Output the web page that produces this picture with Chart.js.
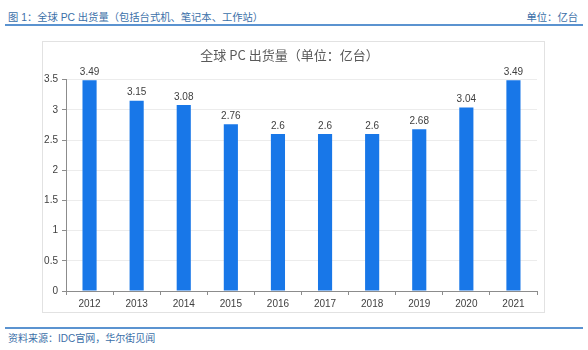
<!DOCTYPE html>
<html>
<head>
<meta charset="utf-8">
<script src="https://cdn.jsdelivr.net/npm/chart.js@4.4.0/dist/chart.umd.min.js"></script>
<style>
  body { margin: 0; width: 588px; height: 350px; background: #fff; position: relative; overflow: hidden;
         font-family: "Liberation Sans", "Noto Sans CJK SC", sans-serif; }
  .head { position: absolute; left: 8px; top: 9px; font-size: 10.3px; color: #3b6fa8; }
  .unit { position: absolute; right: 10px; top: 9px; font-size: 10.3px; color: #3b6fa8; }
  .rule { position: absolute; left: 5px; width: 578px; height: 2px; background: #5b93d0; }
  .src { position: absolute; left: 8px; top: 330px; font-size: 10px; color: #3b6fa8; }
  #box { position: absolute; left: 42px; top: 41px; width: 503px; height: 272px;
         border: 1px solid #e2e2e2; box-sizing: border-box; }
  #pcChart { position: absolute; left: -1px; top: -1px; }
</style>
</head>
<body>
<div class="head">图 1：全球 PC 出货量（包括台式机、笔记本、工作站）</div>
<div class="unit">单位：亿台</div>
<div class="rule" style="top:24px"></div>
<div id="box"><canvas id="pcChart" width="503" height="272"></canvas></div>
<div class="rule" style="top:327px"></div>
<div class="src">资料来源：IDC官网，华尔街见闻</div>

<script>
// --- Datos ---
const years = ['2012', '2013', '2014', '2015', '2016', '2017', '2018', '2019', '2020', '2021'];
const shipments = [3.49, 3.15, 3.08, 2.76, 2.6, 2.6, 2.6, 2.68, 3.04, 3.49];
const yTicks = [0, 0.5, 1, 1.5, 2, 2.5, 3, 3.5];

// etiquetas encima de cada barra
const valueLabels = {
    id: 'valueLabels',
    afterDatasetsDraw(chart) {
        const ctx = chart.ctx;
        ctx.save();
        ctx.font = '10px "Liberation Sans", sans-serif';
        ctx.fillStyle = '#404040';
        ctx.textAlign = 'center';
        ctx.textBaseline = 'bottom';
        chart.getDatasetMeta(0).data.forEach((bar, i) => {
            ctx.fillText(String(shipments[i]), bar.x, bar.y - 3);
        });
        ctx.restore();
    }
};

new Chart(document.getElementById('pcChart').getContext('2d'), {
    type: 'bar',
    data: {
        labels: years,
        datasets: [{ data: shipments, backgroundColor: '#1877e8', categoryPercentage: 1, barPercentage: 0.3 }]
    },
    options: {
        responsive: false,
        animation: false,
        devicePixelRatio: 1,
        layout: { padding: { left: 0, right: 8, top: 0, bottom: 0 } },
        plugins: {
            legend: { display: false },
            tooltip: { enabled: false },
            title: {
                display: true,
                text: '全球 PC 出货量（单位：亿台）',
                color: '#595959',
                font: { size: 13, family: '"Noto Sans CJK SC", sans-serif', weight: 'normal' },
                padding: { top: 6, bottom: 17 }
            }
        },
        scales: {
            x: {
                grid: { display: true, drawOnChartArea: false, drawTicks: true, tickLength: 4, color: '#8c8c8c', offset: true },
                border: { display: true, color: '#8c8c8c', width: 1 },
                ticks: { color: '#404040', font: { size: 10 }, padding: 3, maxRotation: 0 },
                afterFit: (s) => { s.height = 22; }
            },
            y: {
                min: 0, max: 3.5,
                afterBuildTicks: (s) => { s.ticks = yTicks.map(v => ({ value: v })); },
                grid: { color: '#ececec', tickColor: '#8c8c8c', tickLength: 4 },
                border: { display: true, color: '#8c8c8c', width: 1 },
                ticks: { color: '#404040', font: { size: 10 }, padding: 4, callback: (v) => String(v) },
                afterFit: (s) => { s.width = 24; }
            }
        }
    },
    plugins: [valueLabels]
});
</script>
</body>
</html>
